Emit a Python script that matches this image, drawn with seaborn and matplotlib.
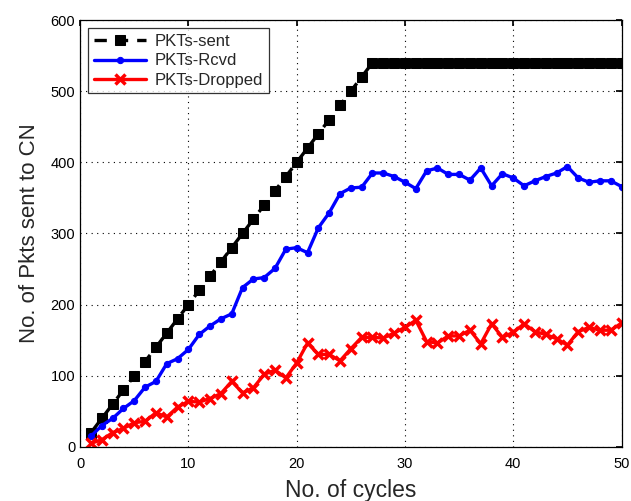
import matplotlib
matplotlib.use("Agg")
import matplotlib.pyplot as plt
import numpy as np
import pandas as pd
import seaborn as sns

cycles = list(range(1, 51))
pkts_sent = [20, 40, 60, 80, 100, 120, 140, 160, 180, 200,
             220, 240, 260, 280, 300, 320, 340, 360, 380, 400,
             420, 440, 460, 480, 500, 520, 540, 540, 540, 540,
             540, 540, 540, 540, 540, 540, 540, 540, 540, 540,
             540, 540, 540, 540, 540, 540, 540, 540, 540, 540]
pkts_rcvd = [15, 30, 40, 54, 65, 84, 92, 117, 124, 137,
             158, 170, 180, 187, 224, 236, 238, 251, 278, 280,
             273, 308, 329, 356, 364, 365, 385, 385, 380, 372,
             363, 388, 392, 383, 383, 375, 392, 367, 384, 378,
             367, 374, 380, 385, 394, 378, 372, 374, 374, 366]
pkts_dropped = [5, 10, 20, 26, 34, 36, 48, 42, 56, 64,
                63, 68, 75, 92, 76, 83, 102, 108, 97, 118,
                146, 130, 130, 121, 138, 154, 154, 153, 160, 168,
                178, 148, 146, 156, 156, 164, 145, 173, 154, 161,
                173, 162, 158, 152, 143, 162, 168, 164, 164, 174]
labels = ["PKTs-sent", "PKTs-Rcvd", "PKTs-Dropped"]
x_ticks = [0, 10, 20, 30, 40, 50]
y_ticks = [0, 100, 200, 300, 400, 500, 600]

sns.set_theme(style="white")
plt.rcParams["font.family"] = ["Liberation Sans", "DejaVu Sans"]

df = pd.DataFrame({"cycles": cycles, "sent": pkts_sent,
                   "rcvd": pkts_rcvd, "dropped": pkts_dropped})

fig = plt.figure(figsize=(6.31, 5.01), dpi=100)
ax = fig.add_axes([0.127, 0.108, 0.858, 0.852])

sns.lineplot(data=df, x="cycles", y="sent", ax=ax, color="black",
             dashes=False, linewidth=2.4, marker="s", markersize=6.5,
             markeredgecolor="black", label=labels[0])
ax.lines[-1].set_dashes((3.7, 2.7))
sns.lineplot(data=df, x="cycles", y="rcvd", ax=ax, color="blue",
             linewidth=2.4, marker="o", markersize=4.5,
             markeredgecolor="blue", label=labels[1])
sns.lineplot(data=df, x="cycles", y="dropped", ax=ax, color="red",
             linewidth=2.4, marker="x", markersize=7, markeredgewidth=2.5,
             markeredgecolor="red", label=labels[2])

ax.set_xlim(0, 50)
ax.set_ylim(0, 600)
ax.set_xticks(x_ticks)
ax.set_yticks(y_ticks)
ax.grid(True, color="black", linestyle=(0, (1, 4)), linewidth=0.8)
ax.tick_params(direction="in", top=True, right=True, length=4,
               labelsize=10.5, colors="black")
ax.tick_params(axis="x", pad=7)
for sp in ax.spines.values():
    sp.set_color("black")
    sp.set_linewidth(0.9)
ax.set_xlabel("No. of cycles", fontsize=16.5, labelpad=6)
ax.set_ylabel("No. of Pkts sent to CN", fontsize=16, labelpad=8)

leg = ax.legend(loc="upper left", fontsize=12, frameon=True, fancybox=False,
                edgecolor="black", borderpad=0.35, labelspacing=0.25,
                handlelength=3.1, handletextpad=0.5, borderaxespad=0.5)
leg.get_frame().set_linewidth(0.9)
leg.legend_handles[0].set_dashes((3.7, 2.7))

fig.savefig("out.png", dpi=100)
